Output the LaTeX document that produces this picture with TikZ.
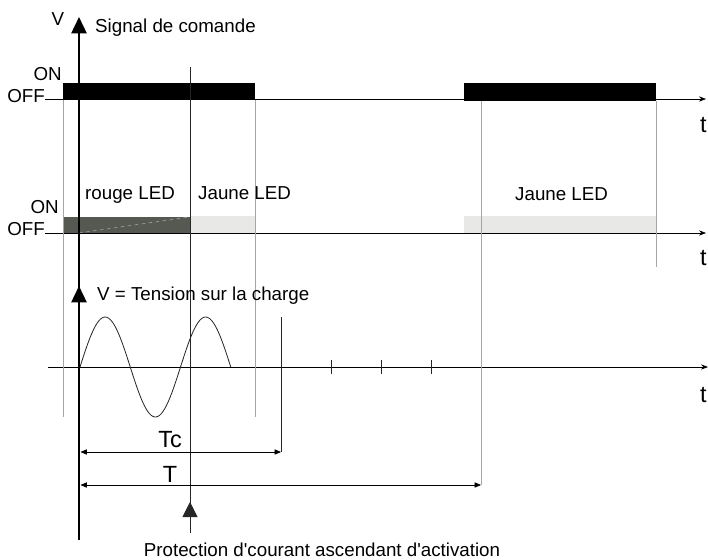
\documentclass[tikz,border=0pt]{standalone}
\usepackage{fontspec}
\setmainfont{Liberation Sans}
\usetikzlibrary{arrows.meta, calc}

\begin{document}
\begin{tikzpicture}[x=0.03cm, y=-0.03cm, font=\fontsize{16}{19}\selectfont]
	% --- Parametri (pixel) ---
	\def\xAxe{79}
	\def\xStart{63}
	\def\xProt{190}
	\def\xOff{255}
	\def\xOnB{464}
	\def\xOffB{656}
	\def\xT{481}
	\def\xTc{281}
	\def\ySig{99}
	\def\yLed{233}
	\def\yLoad{367}
	\def\amp{50}
	
	% --- Stili ---
	\tikzset{
		axis/.style={draw=black, line width=0.6pt, -{Stealth[length=6pt, width=4.5pt]}},
		mainaxis/.style={draw=black, line width=1.7pt},
		bigtip/.style={-{Triangle[length=14pt, width=13pt]}},
		guide/.style={draw=gray!70, line width=0.8pt},
		thinline/.style={draw=black!85, line width=0.6pt},
		dim/.style={draw=black, line width=0.6pt, {Triangle[length=5.5pt, width=4.5pt]}-{Triangle[length=5.5pt, width=4.5pt]}},
		lbl/.style={inner sep=0pt},
		biglbl/.style={inner sep=0pt, font=\fontsize{20}{24}\selectfont},
		cmdbar/.style={fill=black},
		redbar/.style={fill=ledred},
		yelbar/.style={fill=ledyellow}
	}
	\definecolor{ledred}{RGB}{86,88,82}
	\definecolor{ledyellow}{RGB}{232,232,230}
	
	\useasboundingbox (0,0) rectangle (708,559);
	
	% --- Coordinate ---
	\coordinate (top) at (\xAxe,17);
	\coordinate (bot) at (\xAxe,540);
	\coordinate (vtail) at (\xAxe,310);
	\coordinate (vtip) at (\xAxe,286);
	\coordinate (sigL) at (45,\ySig);
	\coordinate (sigR) at (706,\ySig);
	\coordinate (ledL) at (45,\yLed);
	\coordinate (ledR) at (706,\yLed);
	\coordinate (loadL) at (48,\yLoad);
	\coordinate (loadR) at (708,\yLoad);
	
	% --- Barre ---
	\fill[cmdbar] (\xStart,83) rectangle (\xOff,100);
	\fill[cmdbar] (\xOnB,83) rectangle (\xOffB,101);
	\fill[redbar] (\xStart,217) rectangle (\xProt,\yLed);
	\fill[yelbar] (\xProt,216) rectangle (\xOff,\yLed);
	\fill[yelbar] (\xOnB,216) rectangle (\xOffB,\yLed);
	\draw[gray!55, line width=0.4pt, dashed] (\xAxe,\yLed) -- (\xProt,217);
	
	% --- Assi temporali ---
	\draw[axis] (sigL) -- (sigR);
	\draw[axis] (ledL) -- (ledR);
	\draw[axis] (loadL) -- (loadR);
	\foreach \xt in {331,381,431}
		\draw[thinline] (\xt,360) -- (\xt,374);
	
	% --- Riferimenti verticali ---
	\draw[guide] (\xStart,100) -- (\xStart,417);
	\draw[guide] (\xOff,100) -- (\xOff,417);
	\draw[guide] (\xT,101) -- (\xT,485);
	\draw[guide] (\xOffB,101) -- (\xOffB,267);
	\draw[thinline] (\xProt,67) -- (\xProt,517);
	\draw[thinline] (\xTc,317) -- (\xTc,452);
	
	% --- Asse principale ---
	\draw[mainaxis, bigtip] (bot) -- (top);
	\draw[mainaxis, bigtip] (vtail) -- (vtip);
	
	% --- Sinusoide ---
	\draw[thinline, line width=0.7pt, domain=0:150.75, samples=90, smooth]
		plot ({\xAxe+1+\x}, {\yLoad-\amp*sin(\x*3.582)});
	
	% --- Quote ---
	\draw[dim] (\xAxe+1.5,452) -- (\xTc,452);
	\draw[dim] (\xAxe+1.5,485) -- (\xT,485);
	\node[biglbl, anchor=base] (tc) at (170,447) {Tc};
	\node[biglbl, anchor=base] (tt) at (170,482) {T};
	
	% --- Protezione ---
	\coordinate (ptail) at (\xProt,533);
	\coordinate (ptip) at (\xProt,502);
	\draw[thinline, -{Triangle[length=13pt, width=13pt]}] (ptail) -- (ptip);
	\node[lbl, anchor=base] (prot) at (322,556)
		{Protection d\textquotesingle courant ascendant d\textquotesingle activation};
	
	% --- Etichette ---
	\node[lbl, anchor=base] (v) at (58,25) {V};
	\node[lbl, anchor=base west] (sig) at (95,32) {Signal de comande};
	\node[lbl, anchor=base east] (on1) at (62,80) {ON};
	\node[lbl, anchor=base east] (off1) at (45,102) {OFF};
	\node[lbl, anchor=base east] (on2) at (59,213) {ON};
	\node[lbl, anchor=base east] (off2) at (45,235) {OFF};
	\node[lbl, anchor=base west] (rouge) at (85,199) {rouge LED};
	\node[lbl, anchor=base west] (jaune1) at (198,199) {Jaune LED};
	\node[lbl, anchor=base west] (jaune2) at (515,200) {Jaune LED};
	\node[lbl, anchor=base west] (vload) at (97,300) {V = Tension sur la charge};
	\node[biglbl, anchor=base west] (t1) at (700,132) {t};
	\node[biglbl, anchor=base west] (t2) at (700,265) {t};
	\node[biglbl, anchor=base west] (t3) at (700,402) {t};
\end{tikzpicture}
\end{document}
